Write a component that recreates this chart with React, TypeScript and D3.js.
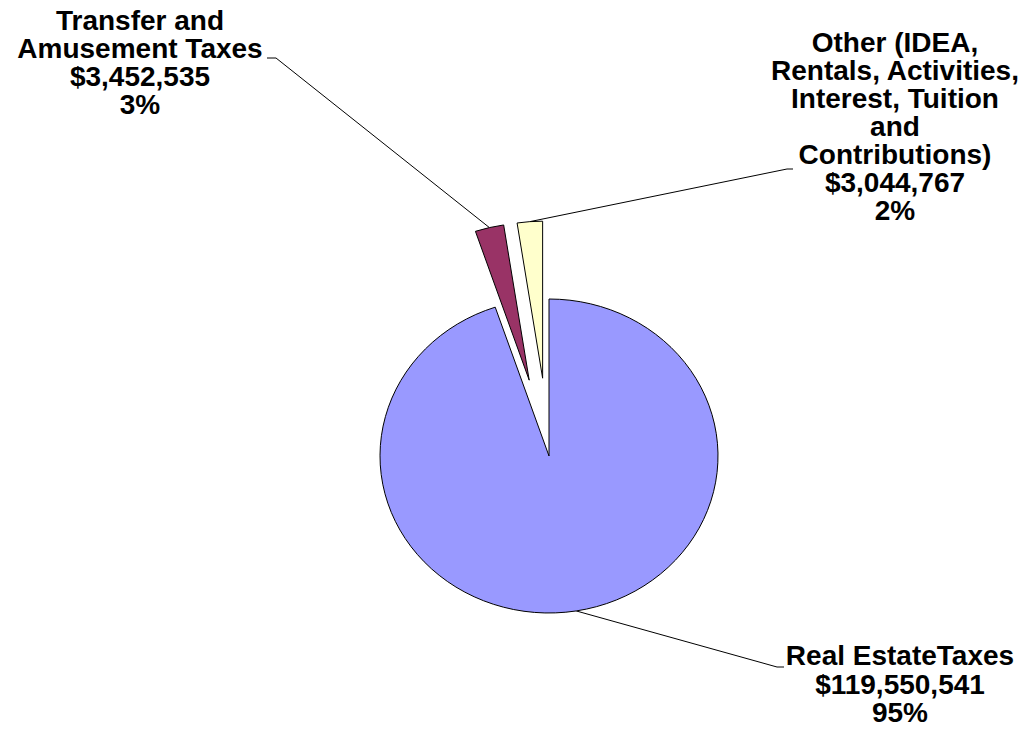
import React from "react";
import * as d3 from "d3";

// ---- data ----
const categories = [
  "Real EstateTaxes",
  "Transfer and Amusement Taxes",
  "Other (IDEA, Rentals, Activities, Interest, Tuition and Contributions)",
];
const values = [119550541, 3452535, 3044767];
const percentLabels = ["95%", "3%", "2%"];
const nameLines = [
  ["Real EstateTaxes"],
  ["Transfer and", "Amusement Taxes"],
  ["Other (IDEA,", "Rentals, Activities,", "Interest, Tuition", "and", "Contributions)"],
];
const colors = ["#9999FF", "#993366", "#FFFFCC"];
const exploded = [false, true, true];

const W = 1027;
const H = 732;
const CX = 549;
const CY = 456;
const R = 169;
const SY = 157 / 169;
const EXPLODE = 84;
const FONT = "'Liberation Sans', Arial, Helvetica, sans-serif";

export default function App() {
  const pie = d3
    .pie<number>()
    .sort(null)
    .value((d) => d)
    .startAngle(0)
    .endAngle(2 * Math.PI);
  const arcs = pie(values);
  const arc = d3.arc<d3.PieArcDatum<number>>().innerRadius(0).outerRadius(R);
  const fmt = d3.format("$,");

  const offset = (a: d3.PieArcDatum<number>, i: number) => {
    if (!exploded[i]) return [0, 0];
    const m = (a.startAngle + a.endAngle) / 2;
    return [EXPLODE * Math.sin(m), -EXPLODE * Math.cos(m)];
  };
  const midPoint = (a: d3.PieArcDatum<number>, i: number, rr: number) => {
    const m = (a.startAngle + a.endAngle) / 2;
    const [ox, oy] = offset(a, i);
    return [CX + ox + rr * Math.sin(m), CY + (oy - rr * Math.cos(m)) * SY];
  };

  // label layouts (positions only)
  const labelLayout = [
    { x: 900, y0: 665, dy: 28.5, anchor: [[777, 667], [784, 667]] },
    { x: 140, y0: 29.5, dy: 28, anchor: [[276, 58], [267, 58]] },
    { x: 895, y0: 51.5, dy: 28.1, anchor: [[787, 169], [793, 169]] },
  ];

  return (
    <svg
      width={W}
      height={H}
      style={{ position: "absolute", left: 0, top: 0, background: "#fff" }}
    >
      {/* leader lines */}
      {arcs.map((a, i) => {
        const p = midPoint(a, i, R);
        const [p1, p2] = labelLayout[i].anchor;
        return (
          <polyline
            key={"l" + i}
            points={`${p2[0]},${p2[1]} ${p1[0]},${p1[1]} ${p[0]},${p[1]}`}
            fill="none"
            stroke="#000"
            strokeWidth={1}
          />
        );
      })}
      {/* slices */}
      <g transform={`translate(${CX},${CY}) scale(1,${SY})`}>
        {arcs.map((a, i) => {
          const [ox, oy] = offset(a, i);
          return (
            <path
              key={"s" + i}
              d={arc(a) || ""}
              transform={`translate(${ox},${oy})`}
              fill={colors[i]}
              stroke="#000"
              strokeWidth={1}
              vectorEffect="non-scaling-stroke"
              strokeLinejoin="round"
            />
          );
        })}
      </g>
      {/* labels */}
      {arcs.map((a, i) => {
        const L = labelLayout[i];
        const lines = [...nameLines[i], fmt(values[i]), percentLabels[i]];
        return (
          <g key={"t" + i} fontFamily={FONT} fontWeight="bold" fontSize={28} fill="#000" textAnchor="middle">
            {lines.map((s, k) => (
              <text key={k} x={L.x} y={L.y0 + k * L.dy}>
                {s}
              </text>
            ))}
          </g>
        );
      })}
    </svg>
  );
}
